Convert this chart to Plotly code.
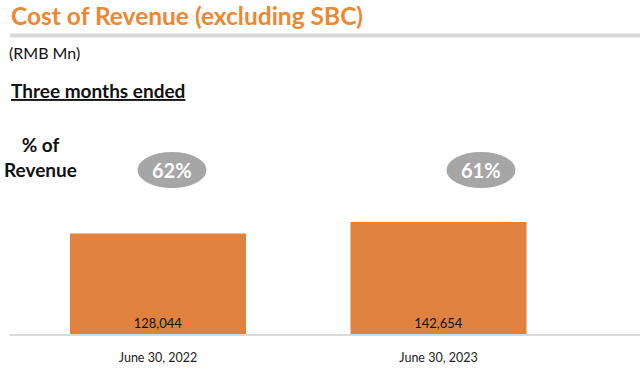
import plotly.graph_objects as go

categories = ["June 30, 2022", "June 30, 2023"]
cost_of_revenue = [128044, 142654]
pct_of_revenue = ["62%", "61%"]
value_labels = ["128,044", "142,654"]

ORANGE = "#E0823F"
TITLE_ORANGE = "#EC8733"
GREY = "#D9D9D9"
ELLIPSE = "#A6A6A6"
FONT = "Lato"

fig = go.Figure()
fig.add_trace(go.Bar(
    x=[0, 1], y=cost_of_revenue,
    marker=dict(color=ORANGE, line=dict(width=0)),
    text=value_labels, textposition="inside", insidetextanchor="start",
    textfont=dict(family=FONT, size=13, color="#111111"),
    width=0.6275, hoverinfo="skip",
))

# plot area spans x 10..640, y 100..334
fig.update_layout(
    width=640, height=370,
    margin=dict(l=10, r=0, t=100, b=36),
    paper_bgcolor="white", plot_bgcolor="white",
    showlegend=False,
    xaxis=dict(range=[-0.5276, 1.7184], tickvals=[0, 1], ticktext=categories,
               showgrid=False, zeroline=False, showline=False,
               ticklabelstandoff=14,
               tickfont=dict(family=FONT, size=12.5, color="#222222"), ticks=""),
    yaxis=dict(range=[0, 298046], visible=False, fixedrange=True),
)

def py(ypix):
    return (334 - ypix) / 234

def px(xpix):
    return (xpix - 10) / 630

# baseline
fig.add_shape(type="line", xref="paper", yref="paper", x0=0, x1=1, y0=py(335), y1=py(335),
              line=dict(color=GREY, width=2))
# title underline
fig.add_shape(type="line", xref="paper", yref="paper", x0=0, x1=1.0,
              y0=py(35.5), y1=py(35.5), line=dict(color=GREY, width=4))

fig.add_annotation(text="<b>Cost of Revenue (excluding SBC)</b>", xref="paper", yref="paper",
                   x=px(9), y=py(16), xanchor="left", yanchor="middle", showarrow=False,
                   font=dict(family=FONT, size=24.5, color=TITLE_ORANGE))
fig.add_annotation(text="(RMB Mn)", xref="paper", yref="paper",
                   x=px(7), y=py(52), xanchor="left", yanchor="middle", showarrow=False,
                   font=dict(family=FONT, size=16, color="#111111"))
fig.add_annotation(text="<b><u>Three months ended</u></b>", xref="paper", yref="paper",
                   x=px(9), y=py(91), xanchor="left", yanchor="middle", showarrow=False,
                   font=dict(family=FONT, size=19, color="#111111"))
fig.add_annotation(text="<b>% of<br>Revenue</b>", xref="paper", yref="paper",
                   x=px(40), y=py(157), xanchor="center", yanchor="middle", showarrow=False,
                   align="center", font=dict(family=FONT, size=19, color="#111111"))

ellipse_centers = [172, 481]
for cx, label in zip(ellipse_centers, pct_of_revenue):
    fig.add_shape(type="circle", xref="paper", yref="paper",
                  x0=px(cx - 34.5), x1=px(cx + 34.5), y0=py(188), y1=py(152),
                  fillcolor=ELLIPSE, line=dict(width=0))
    fig.add_annotation(text=f"<b>{label}</b>", xref="paper", yref="paper",
                       x=px(cx), y=py(170), xanchor="center", yanchor="middle", showarrow=False,
                       font=dict(family=FONT, size=20, color="white"))

fig.write_html("out.html", config={"displayModeBar": False},
               post_script="document.body.style.margin='0';")
